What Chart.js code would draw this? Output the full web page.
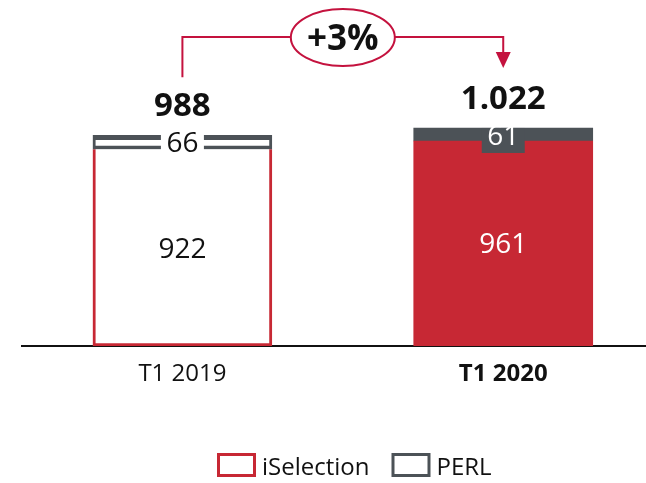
<!DOCTYPE html>
<html><head><meta charset="utf-8">
<script src="https://cdn.jsdelivr.net/npm/chart.js@4/dist/chart.umd.min.js"></script>
<style>html,body{margin:0;padding:0;background:#fff;overflow:hidden}</style>
</head><body>
<canvas id="c" width="646" height="483"></canvas>
<script>
const categories = ['T1 2019', 'T1 2020'];
const iSelection = [922, 961];
const perl = [66, 61];
const totalLabels = ['988', '1.022'];
const growthLabel = '+3%';
const seriesNames = ['iSelection', 'PERL'];

const RED = '#C72834', GRAY = '#4C5257', LINE = '#C4123E', INK = '#111111';
const FONT = "'Open Sans', 'Liberation Sans', sans-serif";

const toPoints = arr => arr.map((v, i) => ({x: i, y: v}));

const annotate = {
  id: 'annotate',
  afterDatasetsDraw(chart) {
    const ctx = chart.ctx;
    const m0 = chart.getDatasetMeta(0), m1 = chart.getDatasetMeta(1);
    ctx.save();
    ctx.textAlign = 'center';
    ctx.textBaseline = 'alphabetic';
    categories.forEach((c, i) => {
      const a = m0.data[i], b = m1.data[i];
      const filled = i === 1;
      ctx.font = `28px ${FONT}`;
      ctx.fillStyle = filled ? '#fff' : INK;
      ctx.fillText(String(iSelection[i]), a.x, (a.y + a.base) / 2 + 10);
      if (filled) {
        ctx.fillStyle = GRAY;
        ctx.fillRect(b.x - 21.5, b.y, 43, 25);
        ctx.fillStyle = '#fff';
        ctx.fillText(String(perl[i]), b.x, b.y + 17);
      } else {
        ctx.fillStyle = '#fff';
        ctx.fillRect(b.x - 21.5, b.y - 2, 43, (b.base - b.y) + 5);
        ctx.fillStyle = INK;
        ctx.fillText(String(perl[i]), b.x, (b.y + b.base) / 2 + 10);
      }
      ctx.font = `bold 33px ${FONT}`;
      ctx.fillStyle = INK;
      ctx.fillText(totalLabels[i], b.x, b.y - 19);
    });
    // growth bracket
    const x0 = m1.data[0].x, x1 = m1.data[1].x;
    const hy = chart.chartArea.top + 11;
    const cx = (x0 + x1) / 2, rx = 52, ry = 28.5;
    ctx.strokeStyle = LINE; ctx.lineWidth = 2;
    ctx.beginPath();
    ctx.moveTo(x0, m1.data[0].y - 58); ctx.lineTo(x0, hy); ctx.lineTo(cx - rx, hy);
    ctx.moveTo(cx + rx, hy); ctx.lineTo(x1, hy); ctx.lineTo(x1, m1.data[1].y - 72);
    ctx.stroke();
    ctx.fillStyle = LINE;
    ctx.beginPath();
    ctx.moveTo(x1 - 7.5, m1.data[1].y - 76);
    ctx.lineTo(x1 + 7.5, m1.data[1].y - 76);
    ctx.lineTo(x1, m1.data[1].y - 60);
    ctx.closePath(); ctx.fill();
    ctx.beginPath();
    ctx.ellipse(cx, hy + 0.5, rx, ry, 0, 0, Math.PI * 2);
    ctx.fillStyle = '#fff'; ctx.fill(); ctx.stroke();
    ctx.fillStyle = INK;
    ctx.font = `bold 35px ${FONT}`;
    ctx.fillText(growthLabel, cx, hy + 13);
    // legend
    ctx.font = `24px ${FONT}`;
    ctx.textAlign = 'left';
    let lx = 217;
    [RED, GRAY].forEach((col, k) => {
      ctx.strokeStyle = col; ctx.lineWidth = 3;
      ctx.strokeRect(lx + 1.5, 454.5, 36, 21);
      ctx.fillStyle = INK;
      ctx.fillText(seriesNames[k], lx + 45, 475);
      lx += 45 + ctx.measureText(seriesNames[k]).width + 22;
    });
    ctx.restore();
  }
};

new Chart(document.getElementById('c'), {
  type: 'bar',
  data: {
    datasets: [
      {
        label: seriesNames[0],
        data: toPoints(iSelection),
        backgroundColor: c => c.dataIndex === 0 ? '#ffffff' : RED,
        borderColor: RED,
        borderWidth: c => c.dataIndex === 0 ? 3 : 0,
        borderSkipped: 'top',
        barThickness: 179
      },
      {
        label: seriesNames[1],
        data: toPoints(perl),
        backgroundColor: c => c.dataIndex === 0 ? '#ffffff' : GRAY,
        borderColor: GRAY,
        borderWidth: c => c.dataIndex === 0 ? {top: 5, bottom: 4, left: 3, right: 3} : 0,
        borderSkipped: false,
        barThickness: 179
      }
    ]
  },
  options: {
    responsive: false,
    animation: false,
    events: [],
    layout: {padding: {top: 26, left: 22, right: 0, bottom: 0}},
    plugins: {legend: {display: false}, tooltip: {enabled: false}},
    scales: {
      x: {
        type: 'linear', min: -0.5, max: 1.445, stacked: true, offset: false, z: 1,
        grid: {display: false, drawTicks: false},
        border: {display: true, color: INK, width: 2},
        afterBuildTicks: s => { s.ticks = categories.map((c, i) => ({value: i})); },
        afterFit: s => { s.height = 137; },
        ticks: {
          padding: 14, color: INK, autoSkip: false, maxRotation: 0,
          font: c => ({family: FONT, size: 24, weight: c.index === 1 ? 'bold' : 'normal'}),
          callback: v => categories[v] ?? ''
        }
      },
      y: {display: false, stacked: true, min: 0, max: 1500}
    }
  },
  plugins: [annotate]
});
</script>
</body></html>
